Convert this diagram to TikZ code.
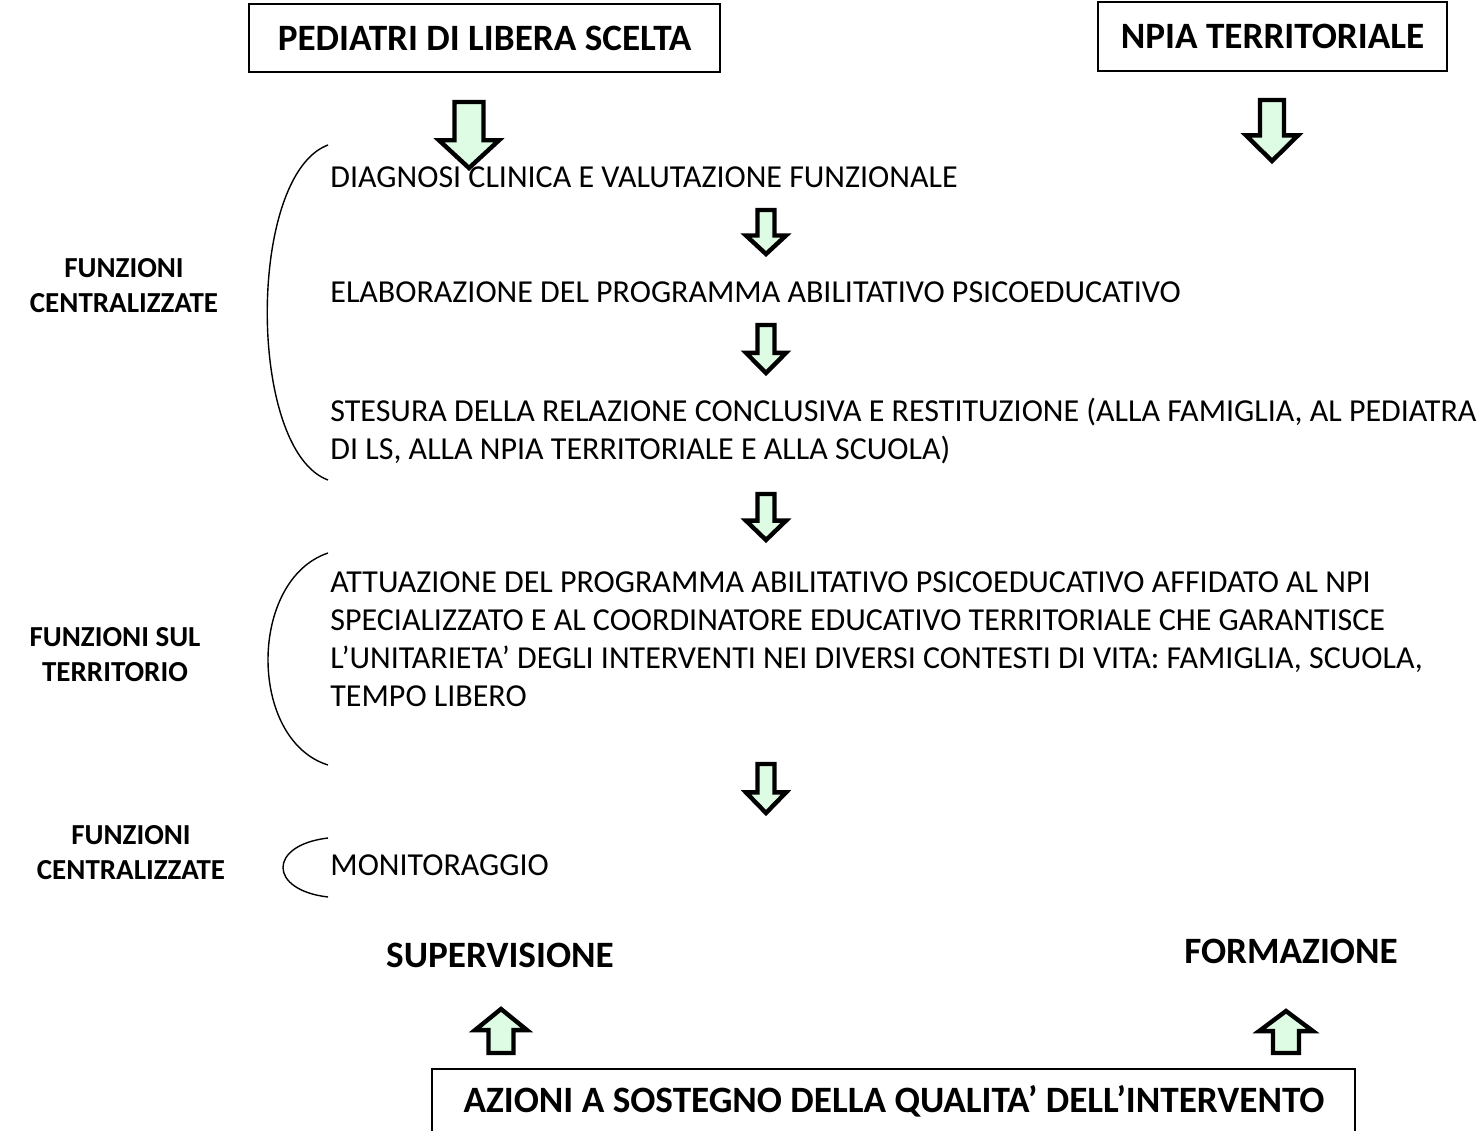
\documentclass[tikz,border=0pt]{standalone}
\usepackage{fontspec}
\setmainfont{Carlito}
\definecolor{mint}{RGB}{222,252,228}
\newcommand\BlkDown[5]{% cx, top, width, height, shaft width ; head height = 0.42 h
  \draw[blkarrow] ({#1-#5/2},#2) -- ({#1+#5/2},#2) -- ({#1+#5/2},{#2+0.58*#4}) -- ({#1+#3/2},{#2+0.58*#4}) -- (#1,{#2+#4}) -- ({#1-#3/2},{#2+0.58*#4}) -- ({#1-#5/2},{#2+0.58*#4}) -- cycle;}
\newcommand\BlkUp[5]{% cx, bottom, width, height, shaft width
  \draw[blkarrow] ({#1-#5/2},#2) -- ({#1+#5/2},#2) -- ({#1+#5/2},{#2-0.52*#4}) -- ({#1+#3/2},{#2-0.52*#4}) -- (#1,{#2-#4}) -- ({#1-#3/2},{#2-0.52*#4}) -- ({#1-#5/2},{#2-0.52*#4}) -- cycle;}
\begin{document}
\begin{tikzpicture}[x=0.5pt,y=-0.5pt,
  blkarrow/.style={draw=black,fill=mint,line width=2.2pt,line join=miter},
  titlebox/.style={draw=black,line width=1pt,font=\fontsize{18.6}{22}\selectfont\bfseries,inner sep=0pt},
  body/.style={anchor=west,align=left,inner sep=0pt,font=\fontsize{16}{19}\selectfont},
  side/.style={align=center,inner sep=0pt,font=\fontsize{14.5}{17.5}\selectfont\bfseries},
  head/.style={inner sep=0pt,font=\fontsize{18.6}{22}\selectfont\bfseries},
  brace/.style={draw=black,line width=0.7pt}]
\useasboundingbox (0,0) rectangle (1482,1130);
\fill[white] (0,0) rectangle (1482,1130);

% top boxes
\node[titlebox,minimum width=235.5pt,minimum height=34pt] (ped) at (484.5,38) {PEDIATRI DI LIBERA SCELTA};
\node[titlebox,minimum width=174.5pt,minimum height=34.5pt] (npia) at (1272.5,36.5) {NPIA TERRITORIALE};

% big arrows
\BlkDown{469}{102}{60}{66}{29}
\BlkDown{1272}{100}{52}{61}{24}

% body texts
\node[body] (diag) at (330,177) {DIAGNOSI CLINICA E VALUTAZIONE FUNZIONALE};
\node[body] (elab) at (330,292) {ELABORAZIONE DEL PROGRAMMA ABILITATIVO PSICOEDUCATIVO};
\node[body] (stes) at (330,431.5) {STESURA DELLA RELAZIONE CONCLUSIVA E RESTITUZIONE (ALLA FAMIGLIA, AL PEDIATRA\\DI LS, ALLA NPIA TERRITORIALE E ALLA SCUOLA)};
\node[body] (attu) at (330,639.5) {ATTUAZIONE DEL PROGRAMMA ABILITATIVO PSICOEDUCATIVO AFFIDATO AL NPI\\SPECIALIZZATO E AL COORDINATORE EDUCATIVO TERRITORIALE CHE GARANTISCE\\L’UNITARIETA’ DEGLI INTERVENTI NEI DIVERSI CONTESTI DI VITA: FAMIGLIA, SCUOLA,\\TEMPO LIBERO};
\node[body] (moni) at (330,865) {MONITORAGGIO};

% small arrows
\BlkDown{766}{210}{40}{44}{17}
\BlkDown{766}{325}{40}{48}{17}
\BlkDown{766}{494}{40}{46}{17}
\BlkDown{766}{764}{40}{49}{17}

% side labels
\node[side] (fc1) at (124,286) {FUNZIONI\\CENTRALIZZATE};
\node[side] (fst) at (115,655) {FUNZIONI SUL\\TERRITORIO};
\node[side] (fc2) at (131,853) {FUNZIONI\\CENTRALIZZATE};

% brackets
\draw[brace] (328,145) .. controls (247,175) and (247,450) .. (328,480);
\draw[brace] (328,553) .. controls (248,580) and (248,740) .. (328,765);
\draw[brace] (328,838) .. controls (268,845) and (268,890) .. (328,897);

% bottom heads
\node[head] (sup) at (500,955) {SUPERVISIONE};
\node[head] (for) at (1291,951) {FORMAZIONE};

\BlkUp{501}{1053}{52}{44}{25}
\BlkUp{1286}{1053}{54}{42}{26}

% bottom box
\draw[line width=1pt] (432,1150) -- (432,1069) -- (1355,1069) -- (1355,1150);
\node[head] (az) at (894,1101) {AZIONI A SOSTEGNO DELLA QUALITA’ DELL’INTERVENTO};
\end{tikzpicture}
\end{document}
